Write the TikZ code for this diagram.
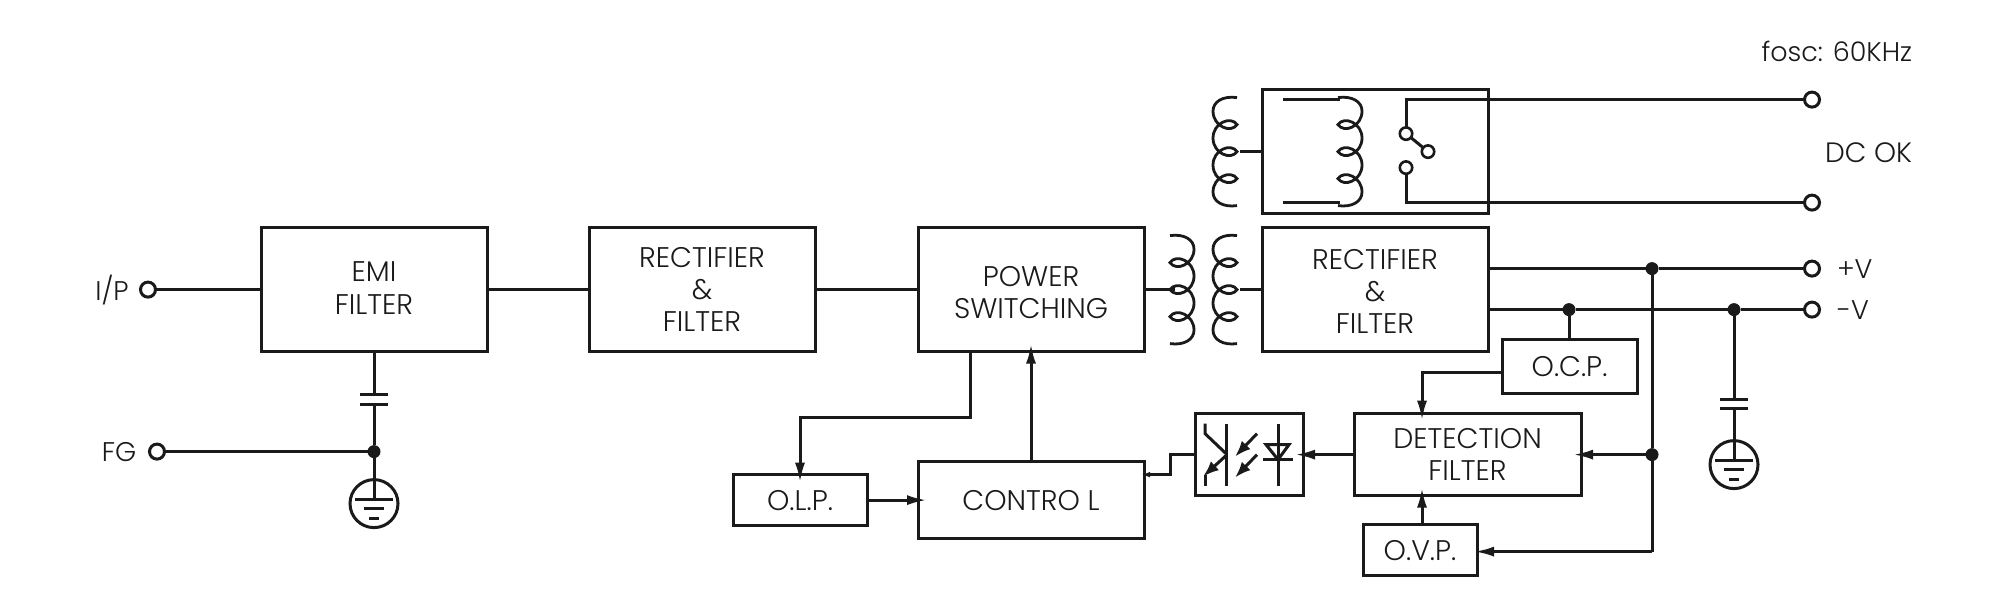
\documentclass[tikz,border=0pt]{standalone}
\usepackage{fontspec}
\usetikzlibrary{arrows.meta,calc}
\setmainfont{Poppins Light}
\definecolor{ink}{HTML}{1A1A1A}
\tikzset{
  x=0.5pt,y=-0.5pt,
  blockbox/.style={draw=ink,line width=1.5pt,rectangle,inner sep=0pt,outer sep=0pt,text=ink,align=center,font=\fontsize{14.2}{16.1}\selectfont},
  labeltext/.style={inner sep=0pt,outer sep=0pt,text=ink,align=center,font=\fontsize{13.5}{16.1}\selectfont},
  terminal/.style={circle,draw=ink,line width=1.5pt,fill=white,minimum size=7.5pt,inner sep=0pt,outer sep=0pt},
  junction/.style={circle,fill=ink,draw=none,minimum size=6.5pt,inner sep=0pt,outer sep=0pt},
  contact/.style={circle,draw=ink,line width=1.3pt,fill=white,minimum size=6.2pt,inner sep=0pt,outer sep=0pt},
  bigtip/.style={-{Latex[length=10pt,width=5pt]}},
  smalltip/.style={-{Latex[length=4.5pt,width=2.8pt]}},
  coil/.pic={
    \draw[line width=1.4pt] (0,-54) .. controls (14,-56) and (24,-50) .. (24,-40.5) .. controls (24,-25) and (6,-18) .. (0,-27)
      .. controls (6,-36) and (24,-29) .. (24,-13.5) .. controls (24,2) and (6,9) .. (0,0)
      .. controls (6,-9) and (24,-2) .. (24,13.5) .. controls (24,29) and (6,36) .. (0,27)
      .. controls (6,18) and (24,25) .. (24,40.5) .. controls (24,50) and (14,56) .. (0,54);
  },
  earth/.pic={
    \draw (0,0) circle[radius=24];
    \draw (-19,-4) -- (19,-4);
    \draw (-10,5) -- (10,5);
    \draw (-5,15) -- (5,15);
  }
}
\begin{document}
\begin{tikzpicture}[line width=1.5pt,color=ink]
\useasboundingbox (0,-0.6) rectangle (2000,611.4);
% blocks
\node[blockbox,minimum width=113pt,minimum height=62pt] (emi) at (374,289) {};
\node[labeltext,font=\fontsize{14.2}{16.1}\selectfont] at (374,287.5) {EMI\\FILTER};
\node[blockbox,minimum width=113pt,minimum height=62pt] (rectA) at (702,289) {RECTIFIER\\\&\\FILTER};
\node[blockbox,minimum width=113pt,minimum height=62pt] (power) at (1031,289) {};
\node[labeltext,font=\fontsize{14.2}{16.1}\selectfont] at (1031,292) {POWER\\SWITCHING};
\node[blockbox,minimum width=113pt,minimum height=62pt] (rectB) at (1375,289) {};
\node[labeltext,font=\fontsize{14.2}{16.1}\selectfont] at (1375,291) {RECTIFIER\\\&\\FILTER};
\node[blockbox,minimum width=113pt,minimum height=62pt] (relay) at (1375,151) {};
\node[blockbox,minimum width=113pt,minimum height=38.5pt] (control) at (1031,499.5) {CONTRO L};
\node[blockbox,minimum width=67pt,minimum height=25.5pt] (olp) at (800,499.5) {O.L.P.};
\node[blockbox,minimum width=54pt,minimum height=41pt] (opto) at (1249,454) {};
\node[blockbox,minimum width=113.5pt,minimum height=41pt] (detect) at (1467.5,454) {DETECTION\\FILTER};
\node[blockbox,minimum width=57pt,minimum height=25.5pt] (ovp) at (1420,549.5) {O.V.P.};
\node[blockbox,minimum width=67.5pt,minimum height=27pt] (ocp) at (1569.5,366) {O.C.P.};
% terminals
\node[terminal] (ip) at (148,289) {};
\node[terminal] (fg) at (157,451) {};
\node[terminal] (okA) at (1812,99) {};
\node[terminal] (okB) at (1812,202) {};
\node[terminal] (pv) at (1812,268) {};
\node[terminal] (nv) at (1812,309) {};
% junctions
\node[junction] (jfg) at (374,451) {};
\node[junction] (jpv) at (1652,268) {};
\node[junction] (jocp) at (1569,309) {};
\node[junction] (jnv) at (1734,309) {};
\node[junction] (jdet) at (1652,454) {};
% labels
\node[labeltext,anchor=east] at (1912,51) {fosc: 60KHz};
\node[labeltext,anchor=east,font=\fontsize{14}{16}\selectfont] at (1912,152) {DC OK};
\node[labeltext,anchor=west] at (1837,268) {+V};
\node[labeltext,anchor=west] at (1837,309) {-V};
\node[labeltext] at (112,289) {I/P};
\node[labeltext] at (119,451) {FG};
% main chain
\draw (ip) -- (emi);
\draw (emi) -- (rectA);
\draw (rectA) -- (power);
% coils
\pic at (1170,289) {coil};
\pic[xscale=-1] at (1237,289) {coil};
\pic[xscale=-1] at (1237,151) {coil};
\pic at (1338,151) {coil};
\coordinate (coilP) at (1175,289);
\coordinate (coilS) at (1240,289);
\coordinate (coilR) at (1240,151);
\draw (power.east) -- (coilP);
\draw (coilS) -- (rectB.west);
\draw (coilR) -- (relay.west);
% relay inside
\coordinate (coilT) at (1283,99);
\coordinate (coilTe) at (1340,99);
\coordinate (coilB) at (1283,202);
\coordinate (coilBe) at (1340,202);
\draw (coilT) -- (coilTe);
\draw (coilB) -- (coilBe);
\coordinate (swT) at (1406,99);
\coordinate (swB) at (1406,202);
\node[contact] (cA) at (1406,133) {};
\node[contact] (cB) at (1428,151) {};
\node[contact] (cC) at (1406,167) {};
\draw (okA) -- (swT) -- (cA);
\draw (okB) -- (swB) -- (cC);
\draw (cA) -- (cB);
% outputs
\coordinate (rBp) at (1488,268);
\coordinate (rBn) at (1488,309);
\draw (rBp) -- (jpv) -- (pv);
\draw (rBn) -- (jocp) -- (jnv) -- (nv);
\draw (jocp) -- (jocp |- ocp.north);
% sense bus
\coordinate (ovpIn) at (1477,551);
\coordinate (busEnd) at (1652,551);
\draw (jpv) -- (jdet) -- (busEnd);
\draw[bigtip,shorten >=-1.5pt] (busEnd) -- (ovpIn);
\draw[bigtip,shorten >=-4pt] (jdet) -- (detect.east);
% feedback
\coordinate (detN) at (1422,413);
\coordinate (detS) at (1422,495);
\coordinate (ocpBend) at (1422,372);
\coordinate (ocpW) at (1502,372);
\coordinate (ovpN) at (1422,524);
\draw[bigtip,shorten >=-3.5pt] (ocpW) -- (ocpBend) -- (detN);
\draw[bigtip,shorten >=-4pt] (ovpN) -- (detS);
\draw[bigtip,shorten >=-4pt] (detect.west) -- (opto.east);
\coordinate (optoA) at (1170,454);
\coordinate (optoB) at (1170,474);
\coordinate (ctrlE) at (1144,474);
\draw[smalltip,shorten >=-1.5pt] (opto.west) -- (optoA) -- (optoB) -- (ctrlE);
\draw[bigtip,shorten >=-4pt] (control.north) -- (power.south);
\coordinate (pwrOut) at (970,351);
\coordinate (bendA) at (970,417);
\coordinate (bendB) at (800,417);
\draw[bigtip,shorten >=-4pt] (pwrOut) -- (bendA) -- (bendB) -- (olp.north);
\draw[bigtip,shorten >=-4.5pt] (olp.east) -- (control.west);
% opto symbols
\draw (1226,423) -- (1226,485);
\draw (1205,423) -- (1205,433) -- (1226,453);
\draw[-{Latex[length=8pt,width=6pt]}] (1226,455) -- (1203,476);
\draw (1205,474) -- (1205,485);
\draw[-{Latex[length=8pt,width=6pt]}] (1257,433) -- (1235,456);
\draw[-{Latex[length=8pt,width=6pt]}] (1257,454) -- (1235,477);
\draw (1278,423) -- (1278,485);
\draw (1266,444) -- (1289,444) -- (1278,459) -- cycle;
\draw (1263,459) -- (1293,459);
% FG and capacitors
\draw (fg) -- (jfg);
\coordinate (capAt) at (374,394);
\coordinate (capAb) at (374,404);
\coordinate (gA) at (374,499);
\draw (emi.south) -- (capAt);
\draw (capAb) -- (jfg) -- (gA);
\draw (360,394) -- (388,394);
\draw (360,404) -- (388,404);
\pic at (374,503) {earth};
\coordinate (capBt) at (1734,399);
\coordinate (capBb) at (1734,408);
\coordinate (gB) at (1734,459);
\draw (jnv) -- (capBt);
\draw (capBb) -- (gB);
\draw (1720,399) -- (1748,399);
\draw (1720,408) -- (1748,408);
\pic at (1734,464) {earth};
\end{tikzpicture}
\end{document}
